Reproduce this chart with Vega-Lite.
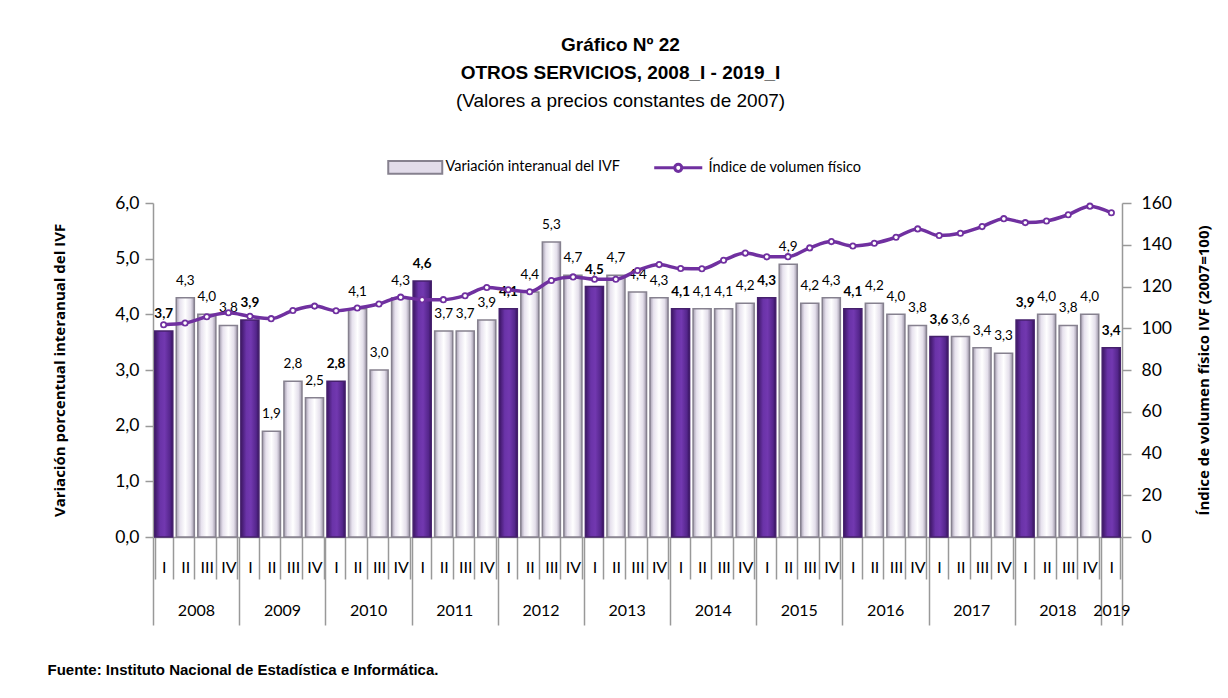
{
  "$schema": "https://vega.github.io/schema/vega-lite/v6.json",
  "width": 969,
  "height": 334,
  "autosize": {"type": "none"},
  "padding": {"left": 153, "top": 203, "right": 106, "bottom": 161},
  "background": "white",
  "config": {
    "view": {"stroke": null},
    "axis": {"grid": false},
    "locale": {"number": {"decimal": ",", "thousands": ".", "grouping": [3], "currency": ["", ""]}}
  },
  "title": {
    "text": ["Gráfico Nº 22", "OTROS SERVICIOS, 2008_I -  2019_I"],
    "subtitle": "(Valores a precios constantes de 2007)",
    "anchor": "middle",
    "dx": -17,
    "font": "Liberation Sans Narrow, Arial Narrow, sans-serif",
    "fontSize": 19,
    "fontWeight": "bold",
    "color": "black",
    "lineHeight": 28,
    "subtitleFont": "Liberation Sans Narrow, Arial Narrow, sans-serif",
    "subtitleFontSize": 19,
    "subtitleColor": "black",
    "subtitlePadding": 9,
    "offset": 49
  },
  "data": {
    "values": [
      {"period": "2008-I", "q": "I", "date": "2008-02-15", "var": 3.7, "ivf": 101.7},
      {"period": "2008-II", "q": "II", "date": "2008-05-16", "var": 4.3, "ivf": 102.5},
      {"period": "2008-III", "q": "III", "date": "2008-08-16", "var": 4.0, "ivf": 105.5},
      {"period": "2008-IV", "q": "IV", "date": "2008-11-16", "var": 3.8, "ivf": 107.4},
      {"period": "2009-I", "q": "I", "date": "2009-02-15", "var": 3.9, "ivf": 105.7},
      {"period": "2009-II", "q": "II", "date": "2009-05-16", "var": 1.9, "ivf": 104.6},
      {"period": "2009-III", "q": "III", "date": "2009-08-16", "var": 2.8, "ivf": 108.5},
      {"period": "2009-IV", "q": "IV", "date": "2009-11-16", "var": 2.5, "ivf": 110.6},
      {"period": "2010-I", "q": "I", "date": "2010-02-15", "var": 2.8, "ivf": 108.4},
      {"period": "2010-II", "q": "II", "date": "2010-05-16", "var": 4.1, "ivf": 109.7},
      {"period": "2010-III", "q": "III", "date": "2010-08-16", "var": 3.0, "ivf": 111.6},
      {"period": "2010-IV", "q": "IV", "date": "2010-11-16", "var": 4.3, "ivf": 114.9},
      {"period": "2011-I", "q": "I", "date": "2011-02-15", "var": 4.6, "ivf": 113.7},
      {"period": "2011-II", "q": "II", "date": "2011-05-16", "var": 3.7, "ivf": 113.7},
      {"period": "2011-III", "q": "III", "date": "2011-08-16", "var": 3.7, "ivf": 115.6},
      {"period": "2011-IV", "q": "IV", "date": "2011-11-16", "var": 3.9, "ivf": 119.5},
      {"period": "2012-I", "q": "I", "date": "2012-02-15", "var": 4.1, "ivf": 118.4},
      {"period": "2012-II", "q": "II", "date": "2012-05-16", "var": 4.4, "ivf": 117.5},
      {"period": "2012-III", "q": "III", "date": "2012-08-16", "var": 5.3, "ivf": 122.9},
      {"period": "2012-IV", "q": "IV", "date": "2012-11-16", "var": 4.7, "ivf": 124.6},
      {"period": "2013-I", "q": "I", "date": "2013-02-15", "var": 4.5, "ivf": 123.5},
      {"period": "2013-II", "q": "II", "date": "2013-05-16", "var": 4.7, "ivf": 123.5},
      {"period": "2013-III", "q": "III", "date": "2013-08-16", "var": 4.4, "ivf": 127.7},
      {"period": "2013-IV", "q": "IV", "date": "2013-11-16", "var": 4.3, "ivf": 130.5},
      {"period": "2014-I", "q": "I", "date": "2014-02-15", "var": 4.1, "ivf": 128.6},
      {"period": "2014-II", "q": "II", "date": "2014-05-16", "var": 4.1, "ivf": 128.5},
      {"period": "2014-III", "q": "III", "date": "2014-08-16", "var": 4.1, "ivf": 132.6},
      {"period": "2014-IV", "q": "IV", "date": "2014-11-16", "var": 4.2, "ivf": 136.0},
      {"period": "2015-I", "q": "I", "date": "2015-02-15", "var": 4.3, "ivf": 134.2},
      {"period": "2015-II", "q": "II", "date": "2015-05-16", "var": 4.9, "ivf": 134.3},
      {"period": "2015-III", "q": "III", "date": "2015-08-16", "var": 4.2, "ivf": 138.5},
      {"period": "2015-IV", "q": "IV", "date": "2015-11-16", "var": 4.3, "ivf": 141.5},
      {"period": "2016-I", "q": "I", "date": "2016-02-15", "var": 4.1, "ivf": 139.4},
      {"period": "2016-II", "q": "II", "date": "2016-05-16", "var": 4.2, "ivf": 140.7},
      {"period": "2016-III", "q": "III", "date": "2016-08-16", "var": 4.0, "ivf": 143.6},
      {"period": "2016-IV", "q": "IV", "date": "2016-11-16", "var": 3.8, "ivf": 147.6},
      {"period": "2017-I", "q": "I", "date": "2017-02-15", "var": 3.6, "ivf": 144.4},
      {"period": "2017-II", "q": "II", "date": "2017-05-16", "var": 3.6, "ivf": 145.5},
      {"period": "2017-III", "q": "III", "date": "2017-08-16", "var": 3.4, "ivf": 148.7},
      {"period": "2017-IV", "q": "IV", "date": "2017-11-16", "var": 3.3, "ivf": 152.5},
      {"period": "2018-I", "q": "I", "date": "2018-02-15", "var": 3.9, "ivf": 150.6},
      {"period": "2018-II", "q": "II", "date": "2018-05-16", "var": 4.0, "ivf": 151.4},
      {"period": "2018-III", "q": "III", "date": "2018-08-16", "var": 3.8, "ivf": 154.4},
      {"period": "2018-IV", "q": "IV", "date": "2018-11-16", "var": 4.0, "ivf": 158.5},
      {"period": "2019-I", "q": "I", "date": "2019-02-15", "var": 3.4, "ivf": 155.3}
    ]
  },
  "layer": [
    {
      "encoding": {
        "x": {
          "field": "period",
          "type": "ordinal",
          "scale": {"paddingInner": 0.16, "paddingOuter": 0.08},
          "axis": {
            "title": null,
            "orient": "bottom",
            "labelExpr": "split(datum.value, '-')[1]",
            "labelAngle": 0,
            "tickBand": "extent",
            "tickSize": 42,
            "labelPadding": -20,
            "labelFont": "Lato",
            "labelFontSize": 16,
            "labelColor": "black",
            "domainColor": "#999999",
            "domainWidth": 1.5,
            "tickColor": "#999999",
            "tickWidth": 1.5
          }
        },
        "y": {
          "field": "var",
          "type": "quantitative",
          "scale": {"domain": [0, 6], "nice": false},
          "axis": {
            "title": "Variación porcentual interanual del IVF",
            "values": [0, 1, 2, 3, 4, 5, 6],
            "format": ".1f",
            "labelFont": "Lato",
            "labelFontSize": 17.5,
            "labelColor": "black",
            "tickSize": 8,
            "labelPadding": 6,
            "domainColor": "#999999",
            "domainWidth": 1.5,
            "tickColor": "#999999",
            "tickWidth": 1.5,
            "titleFont": "Open Sans",
            "titleFontSize": 15,
            "titleFontWeight": "bold",
            "titleColor": "black",
            "titlePadding": 47
          }
        }
      },
      "layer": [
        {
          "transform": [{"filter": "datum.q === 'I'"}],
          "mark": {"type": "bar", "strokeWidth": 1.5, "stroke": "#45206c",
            "color": {"gradient": "linear", "x1": 0, "y1": 0, "x2": 1, "y2": 0, "stops": [
              {"offset": 0, "color": "#3c1664"},
              {"offset": 0.3, "color": "#6a33a8"},
              {"offset": 0.55, "color": "#7238b0"},
              {"offset": 0.85, "color": "#55268c"},
              {"offset": 1, "color": "#36135e"}
            ]}
          }
        },
        {
          "transform": [{"filter": "datum.q !== 'I'"}],
          "mark": {"type": "bar", "strokeWidth": 1.5, "stroke": "#86818f",
            "color": {"gradient": "linear", "x1": 0, "y1": 0, "x2": 1, "y2": 0, "stops": [
              {"offset": 0, "color": "#a59eb0"},
              {"offset": 0.2, "color": "#e7e2ee"},
              {"offset": 0.5, "color": "#ffffff"},
              {"offset": 0.8, "color": "#e4dfeb"},
              {"offset": 1, "color": "#9d96a8"}
            ]}
          }
        },
        {
          "transform": [{"filter": "datum.q !== 'I'"}],
          "mark": {"type": "text", "baseline": "bottom", "dy": -10, "font": "Lato", "fontSize": 13.5, "color": "black"},
          "encoding": {"text": {"field": "var", "type": "quantitative", "format": ".1f"}}
        },
        {
          "transform": [{"filter": "datum.q === 'I'"}],
          "mark": {"type": "text", "baseline": "bottom", "dy": -10, "font": "Lato", "fontSize": 13.5, "fontWeight": "bold", "color": "black"},
          "encoding": {"text": {"field": "var", "type": "quantitative", "format": ".1f"}}
        }
      ]
    },
    {
      "mark": {"type": "line", "interpolate": "monotone", "strokeWidth": 3.5},
      "encoding": {
        "x": {
          "field": "date",
          "type": "temporal",
          "scale": {"type": "utc", "domain": [{"year": 2008, "month": 1, "date": 1, "utc": true}, {"year": 2019, "month": 4, "date": 1, "utc": true}]},
          "axis": {
            "orient": "bottom",
            "title": null,
            "labels": false,
            "domain": false,
            "grid": false,
            "tickSize": 88,
            "tickColor": "#999999",
            "tickWidth": 1.5,
            "values": [
              {"year": 2008, "month": 1, "date": 1, "utc": true},
              {"year": 2009, "month": 1, "date": 1, "utc": true},
              {"year": 2010, "month": 1, "date": 1, "utc": true},
              {"year": 2011, "month": 1, "date": 1, "utc": true},
              {"year": 2012, "month": 1, "date": 1, "utc": true},
              {"year": 2013, "month": 1, "date": 1, "utc": true},
              {"year": 2014, "month": 1, "date": 1, "utc": true},
              {"year": 2015, "month": 1, "date": 1, "utc": true},
              {"year": 2016, "month": 1, "date": 1, "utc": true},
              {"year": 2017, "month": 1, "date": 1, "utc": true},
              {"year": 2018, "month": 1, "date": 1, "utc": true},
              {"year": 2019, "month": 1, "date": 1, "utc": true},
              {"year": 2019, "month": 4, "date": 1, "utc": true}
            ]
          }
        },
        "y": {
          "field": "ivf",
          "type": "quantitative",
          "scale": {"domain": [0, 160], "nice": false},
          "axis": {
            "orient": "right",
            "title": "Índice de volumen físico IVF (2007=100)",
            "titleAngle": 270,
            "values": [0, 20, 40, 60, 80, 100, 120, 140, 160],
            "labelFont": "Lato",
            "labelFontSize": 17.5,
            "labelColor": "black",
            "tickSize": 9,
            "labelPadding": 10,
            "domainColor": "#999999",
            "domainWidth": 1.5,
            "tickColor": "#999999",
            "tickWidth": 1.5,
            "titleFont": "Open Sans",
            "titleFontSize": 15,
            "titleFontWeight": "bold",
            "titleColor": "black",
            "titlePadding": 40
          }
        },
        "color": {
          "datum": "Índice de volumen físico",
          "scale": {"domain": ["Variación interanual del IVF", "Índice de volumen físico"], "range": ["#86818f", "#7030a0"]},
          "legend": {
            "orient": "none",
            "legendX": 255,
            "legendY": -43,
            "direction": "horizontal",
            "title": null,
            "symbolSize": 2916,
            "labelFont": "Lato",
            "labelFontSize": 14.5,
            "labelColor": "black",
            "labelOffset": 23,
            "labelLimit": 400,
            "columnPadding": 27,
            "encoding": {
              "symbols": {
                "shape": {"value": {"expr": "datum.value === 'Índice de volumen físico' ? 'M-0.89,0H-0.13A0.13,0.13 0 1,1 0.13,0A0.13,0.13 0 1,1 -0.13,0M0.13,0H0.89' : 'M-1,-0.24H1V0.24H-1Z'"}},
                "fill": {"value": {"expr": "datum.value === 'Índice de volumen físico' ? 'white' : '#e2dcea'"}},
                "stroke": {"value": {"expr": "datum.value === 'Índice de volumen físico' ? '#7030a0' : '#6f6878'"}},
                "strokeWidth": {"value": {"expr": "datum.value === 'Índice de volumen físico' ? 3 : 2"}}
              }
            }
          }
        }
      }
    },
    {
      "mark": {"type": "point", "shape": "circle", "filled": true, "fill": "white", "stroke": "#7030a0", "strokeWidth": 1.8, "size": 28, "opacity": 1},
      "encoding": {
        "x": {
          "field": "date",
          "type": "temporal",
          "scale": {"type": "utc", "domain": [{"year": 2008, "month": 1, "date": 1, "utc": true}, {"year": 2019, "month": 4, "date": 1, "utc": true}]},
          "axis": {
            "orient": "bottom",
            "values": [
              {"year": 2008, "month": 7, "date": 1, "utc": true},
              {"year": 2009, "month": 7, "date": 1, "utc": true},
              {"year": 2010, "month": 7, "date": 1, "utc": true},
              {"year": 2011, "month": 7, "date": 1, "utc": true},
              {"year": 2012, "month": 7, "date": 1, "utc": true},
              {"year": 2013, "month": 7, "date": 1, "utc": true},
              {"year": 2014, "month": 7, "date": 1, "utc": true},
              {"year": 2015, "month": 7, "date": 1, "utc": true},
              {"year": 2016, "month": 7, "date": 1, "utc": true},
              {"year": 2017, "month": 7, "date": 1, "utc": true},
              {"year": 2018, "month": 7, "date": 1, "utc": true},
              {"year": 2019, "month": 2, "date": 15, "utc": true}
            ],
            "labelExpr": "utcFormat(datum.value, '%Y')",
            "ticks": false,
            "tickSize": 0,
            "domain": false,
            "grid": false,
            "labelPadding": 65,
            "labelFont": "Lato",
            "labelFontSize": 16,
            "labelColor": "black",
            "labelFlush": false,
            "labelOverlap": false,
            "title": "Fuente: Instituto Nacional de Estadística e Informática.",
            "titleX": -106,
            "titleY": 132,
            "titleAlign": "left",
            "titleAnchor": "start",
            "titleBaseline": "middle",
            "titleFont": "Liberation Sans Narrow, Arial Narrow, sans-serif",
            "titleFontSize": 15,
            "titleFontWeight": "bold",
            "titleColor": "black"
          }
        },
        "y": {
          "field": "ivf",
          "type": "quantitative",
          "scale": {"domain": [0, 160], "nice": false},
          "axis": null
        }
      }
    }
  ],
  "resolve": {
    "scale": {"x": "independent", "y": "independent"},
    "axis": {"x": "independent", "y": "independent"}
  }
}
